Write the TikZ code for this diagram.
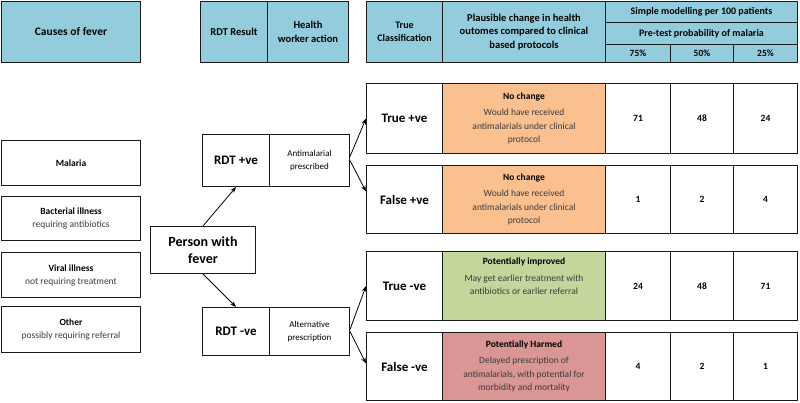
\documentclass[tikz,border=0pt]{standalone}
\usepackage{fontspec}
\setmainfont{Carlito}
\usetikzlibrary{arrows.meta}
\definecolor{hdrblue}{HTML}{93CDDD}
\definecolor{orng}{HTML}{FAC090}
\definecolor{grn}{HTML}{C3D69B}
\definecolor{rd}{HTML}{D99694}
\definecolor{linec}{HTML}{1A1A1A}
\definecolor{bodyc}{HTML}{3A3A3A}
\tikzset{
  sz/.style 2 args={minimum width=#1pt, minimum height=#2pt},
  cell/.style={draw=linec, line width=1pt, anchor=north west, inner sep=1pt, align=center, text=black},
  hdr/.style={cell, fill=hdrblue, font=\bfseries\fontsize{10}{13}\selectfont},
  cause/.style={cell, font=\fontsize{9.5}{13}\selectfont},
  big/.style={cell, font=\bfseries\fontsize{13}{17}\selectfont},
  small/.style={cell, font=\fontsize{9}{12.5}\selectfont},
  outc/.style={cell, font=\fontsize{9.5}{13.5}\selectfont},
  num/.style={cell, font=\bfseries\fontsize{9.5}{12}\selectfont},
  arr/.style={line width=0.8pt, -{Stealth[length=6pt,width=4.5pt]}},
}
\newcommand{\bodytxt}[1]{{\color{bodyc}#1}}
\begin{document}
\begin{tikzpicture}[x=1pt,y=-1pt]
\useasboundingbox (0,0) rectangle (800,402);
% headers
\node[hdr, sz={139}{61}, font=\bfseries\fontsize{11.5}{13}\selectfont] (causes) at (1,1) {Causes of fever};
\node[hdr, sz={67}{61}, font=\bfseries\fontsize{10.5}{13}\selectfont] (rdtres) at (200,1) {RDT Result};
\node[hdr, sz={81}{61}, font=\bfseries\fontsize{10.5}{13.5}\selectfont] (hwa) at (267,1) {Health\\worker action};
\node[hdr, sz={76}{61}] (tcls) at (366,1) {True\\Classification};
\node[hdr, sz={163}{61}, font=\bfseries\fontsize{10.5}{13.5}\selectfont] (plaus) at (442,1) {Plausible change in health\\outomes compared to clinical\\based protocols};
\node[hdr, sz={192}{21}, font=\bfseries\fontsize{10}{11}\selectfont] (simple) at (605,1) {Simple modelling per 100 patients};
\node[hdr, sz={192}{22}, font=\bfseries\fontsize{10}{11}\selectfont] (pretest) at (605,22) {Pre-test probability of malaria};
\node[hdr, sz={65}{18}, font=\bfseries\fontsize{9.5}{10}\selectfont] (p75) at (605,44) {75\%};
\node[hdr, sz={63}{18}, font=\bfseries\fontsize{9.5}{10}\selectfont] (p50) at (670,44) {50\%};
\node[hdr, sz={64}{18}, font=\bfseries\fontsize{9.5}{10}\selectfont] (p25) at (733,44) {25\%};
% causes
\node[cause, sz={139}{45}] (mal) at (1,140) {\textbf{Malaria}};
\node[cause, sz={139}{44}] (bact) at (1,196) {\textbf{Bacterial illness}\\\bodytxt{requiring antibiotics}};
\node[cause, sz={139}{45}] (viral) at (1,252) {\textbf{Viral illness}\\\bodytxt{not requiring treatment}};
\node[cause, sz={139}{46}] (other) at (1,306) {\textbf{Other}\\\bodytxt{possibly requiring referral}};
% person
\node[cell, sz={105}{47}, font=\bfseries\fontsize{14}{17.5}\selectfont] (person) at (150,226) {Person with\\fever};
% RDT
\node[big, sz={67}{52}] (rdtpos) at (202,134) {RDT +ve};
\node[small, sz={80}{52}] (act1) at (269,134) {Antimalarial\\prescribed};
\node[big, sz={67}{48}] (rdtneg) at (202,307) {RDT -ve};
\node[small, sz={80}{48}] (act2) at (269,307) {Alternative\\prescription};
% rows
\node[big, sz={76}{70}] (tp) at (366,83) {True +ve};
\node[outc, sz={163}{70}, fill=orng] (tpo) at (442,83) {\textbf{No change}\\[3pt]\bodytxt{Would have received}\\\bodytxt{antimalarials under clinical}\\\bodytxt{protocol}};
\node[num, sz={65}{70}] (tp1) at (605,83) {71};
\node[num, sz={63}{70}] (tp2) at (670,83) {48};
\node[num, sz={64}{70}] (tp3) at (733,83) {24};

\node[big, sz={76}{68}] (fp) at (366,165) {False +ve};
\node[outc, sz={163}{68}, fill=orng] (fpo) at (442,165) {\textbf{No change}\\[3pt]\bodytxt{Would have received}\\\bodytxt{antimalarials under clinical}\\\bodytxt{protocol}};
\node[num, sz={65}{68}] (fp1) at (605,165) {1};
\node[num, sz={63}{68}] (fp2) at (670,165) {2};
\node[num, sz={64}{68}] (fp3) at (733,165) {4};

\node[big, sz={76}{69}] (tn) at (366,251) {True -ve};
\node[outc, sz={163}{69}, fill=grn] (tno) at (442,251) {\textbf{Potentially improved}\\[3pt]\bodytxt{May get earlier treatment with}\\\bodytxt{antibiotics or earlier referral}\\[6pt]};
\node[num, sz={65}{69}] (tn1) at (605,251) {24};
\node[num, sz={63}{69}] (tn2) at (670,251) {48};
\node[num, sz={64}{69}] (tn3) at (733,251) {71};

\node[big, sz={76}{68}] (fn) at (366,332) {False -ve};
\node[outc, sz={163}{68}, fill=rd] (fno) at (442,332) {\textbf{Potentially Harmed}\\[3pt]\bodytxt{Delayed prescription of}\\\bodytxt{antimalarials, with potential for}\\\bodytxt{morbidity and mortality}};
\node[num, sz={65}{68}] (fn1) at (605,332) {4};
\node[num, sz={63}{68}] (fn2) at (670,332) {2};
\node[num, sz={64}{68}] (fn3) at (733,332) {1};
% arrows
\draw[arr] (person.north) -- (rdtpos.south);
\draw[arr] (person.south) -- (rdtneg.north);
\draw[arr] ([yshift=4pt]act1.east) -- (tp.west);
\draw[arr] (act1.east) -- ([yshift=8pt]fp.west);
\draw[arr] ([yshift=2pt]act2.east) -- (tn.west);
\draw[arr] (act2.east) -- ([yshift=3pt]fn.west);
\end{tikzpicture}
\end{document}
